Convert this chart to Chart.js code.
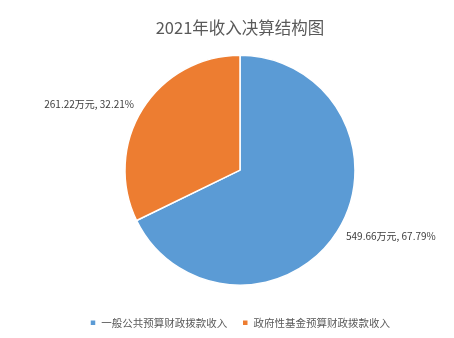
<!DOCTYPE html>
<html>
<head>
<meta charset="utf-8">
<script src="https://cdn.jsdelivr.net/npm/chart.js@4"></script>
<style>
  html, body { margin: 0; padding: 0; background: #fff; }
  #wrap { width: 454px; height: 338px; }
</style>
</head>
<body>
<div id="wrap"><canvas id="myChart" width="454" height="338"></canvas></div>
<script>
const categories = ["一般公共预算财政拨款收入", "政府性基金预算财政拨款收入"];
const amounts = [549.66, 261.22];
const colors = ["#5B9BD5", "#ED7D31"];
const unit = "万元";

const total = amounts.reduce((a, b) => a + b, 0);

// draws the "xxx万元, yy%" labels just outside each slice
const outsideLabels = {
  id: "outsideLabels",
  afterDatasetsDraw(chart) {
    const c = chart.ctx;
    const meta = chart.getDatasetMeta(0);
    c.save();
    c.font = "10px 'Noto Sans CJK SC', sans-serif";
    c.fillStyle = "#404040";
    c.textBaseline = "middle";
    meta.data.forEach(function (arc, i) {
      const mid = (arc.startAngle + arc.endAngle) / 2;
      const r = arc.outerRadius + 10;
      const x = arc.x + Math.cos(mid) * r;
      const y = arc.y + Math.sin(mid) * r;
      c.textAlign = Math.cos(mid) < 0 ? "right" : "left";
      const pct = (amounts[i] / total * 100).toFixed(2);
      c.fillText(amounts[i].toFixed(2) + unit + ", " + pct + "%", x, y);
    });
    c.restore();
  },
};

const ctx = document.getElementById("myChart");

var chart = new Chart(ctx, {
  type: "pie",
  data: {
    labels: categories,
    datasets: [
      {
        data: amounts,
        backgroundColor: colors,
        borderColor: "#ffffff",
        borderWidth: 1.5,
        radius: 115,
      },
    ],
  },
  options: {
    responsive: false,
    animation: false,
    layout: {
      padding: { top: 0, bottom: 0, left: 26, right: 0 },
    },
    plugins: {
      title: {
        display: true,
        text: "2021年收入决算结构图",
        color: "#595959",
        font: { family: "'Noto Sans CJK SC', sans-serif", size: 16.5, weight: "normal" },
        padding: { top: 18, bottom: 0 },
      },
      legend: {
        position: "bottom",
        labels: {
          color: "#595959",
          font: { family: "'Noto Sans CJK SC', sans-serif", size: 10.5 },
          usePointStyle: true,
          pointStyle: "rect",
          boxWidth: 6,
          boxHeight: 6,
          padding: 15,
        },
      },
      tooltip: { enabled: false },
    },
  },
  plugins: [outsideLabels],
});
</script>
</body>
</html>
